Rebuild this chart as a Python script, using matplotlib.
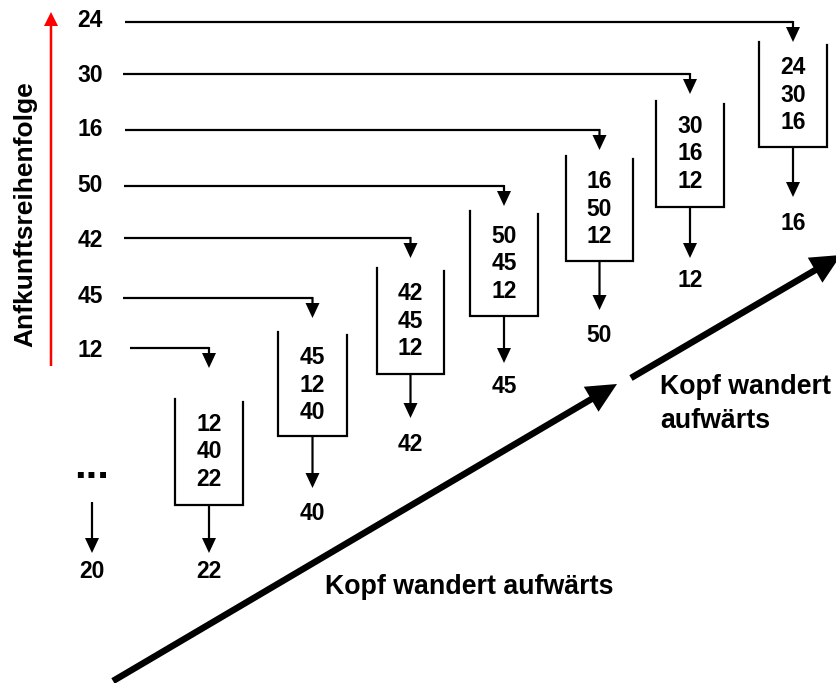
import matplotlib.pyplot as plt
from matplotlib.patches import FancyArrow

plt.rcParams['font.family'] = ['Liberation Sans', 'DejaVu Sans']
plt.rcParams['font.weight'] = 'bold'

# Ankunftsreihenfolge (unten -> oben), Inhalt des Puffers, Ausgabe
arrivals = [12, 45, 42, 50, 16, 30, 24]
queues = [[12, 40, 22], [45, 12, 40], [42, 45, 12], [50, 45, 12],
          [16, 50, 12], [30, 16, 12], [24, 30, 16]]
outputs = [22, 40, 42, 45, 50, 12, 16]
first_output = 20
head_text = 'Kopf wandert aufwärts'
axis_label = 'Anfkunftsreihenfolge'

# layout in Pixeln
arr_base = [357, 303, 247, 192, 136, 82, 27]
line_y = [348, 298, 238, 186, 130, 74, 22]
line_x0 = [130, 123, 124, 124, 125, 123, 125]
box_l = [175, 278, 377, 470, 566, 656, 759]
box_r = [243, 347, 444, 538, 633, 724, 827]
box_top = [399, 332, 268, 211, 156, 101, 42]
box_bot = [505, 436, 374, 316, 261, 207, 147]
tip_y = [553, 488, 418, 363, 310, 258, 197]
out_base = [578, 520, 451, 393, 342, 287, 230]

fig = plt.figure(figsize=(8.36, 6.83), dpi=100)
ax = fig.add_axes([0, 0, 1, 1])
ax.set_xlim(0, 836)
ax.set_ylim(683, 0)
ax.axis('off')

fs = 16.5


def small_arrow(x, y0, y1):
    ax.add_patch(FancyArrow(x, y0, 0, y1 - y0, width=2.2, head_width=14,
                            head_length=15, length_includes_head=True,
                            color='black', lw=0))


for i in range(len(arrivals)):
    cx = (box_l[i] + box_r[i]) / 2
    # Ankunft
    ax.text(90, arr_base[i], str(arrivals[i]), ha='center', va='baseline', fontsize=fs)
    ax.plot([line_x0[i], cx], [line_y[i], line_y[i]], color='black', lw=1.6,
            solid_capstyle='butt')
    small_arrow(cx, line_y[i] - 1, line_y[i] + 20)
    # Puffer
    ax.plot([box_l[i], box_l[i], box_r[i], box_r[i]],
            [box_top[i], box_bot[i], box_bot[i], box_top[i] + 3],
            color='black', lw=1.6, solid_joinstyle='miter')
    for k, v in enumerate(queues[i]):
        ax.text(cx, box_top[i] + 32 + 27.5 * k, str(v), ha='center',
                va='baseline', fontsize=fs)
    # Ausgabe
    small_arrow(cx, box_bot[i], tip_y[i])
    ax.text(cx, out_base[i], str(outputs[i]), ha='center', va='baseline', fontsize=fs)

ax.text(92, 478, '...', ha='center', va='baseline', fontsize=30)
small_arrow(92, 502, 553)
ax.text(92, 578, str(first_output), ha='center', va='baseline', fontsize=fs)

# rote Achse
ax.add_patch(FancyArrow(51, 366, 0, -354, width=2.5, head_width=14, head_length=14,
                        length_includes_head=True, color='red', lw=0))
ax.text(25, 214, axis_label, rotation=90, ha='center', va='center', fontsize=19)

# Kopf wandert aufwärts
ax.add_patch(FancyArrow(113, 681, 504, -297, width=6.5, head_width=29, head_length=30,
                        length_includes_head=True, color='black', lw=0))
ax.add_patch(FancyArrow(631, 378, 210, -123, width=6.5, head_width=29, head_length=30,
                        length_includes_head=True, color='black', lw=0))
ax.text(325, 594, head_text, ha='left', va='baseline', fontsize=19.3)
ax.text(660, 394, 'Kopf wandert', ha='left', va='baseline', fontsize=19.3)
ax.text(660, 428, 'aufwärts', ha='left', va='baseline', fontsize=19.3)

plt.savefig('out.png', dpi=100)
